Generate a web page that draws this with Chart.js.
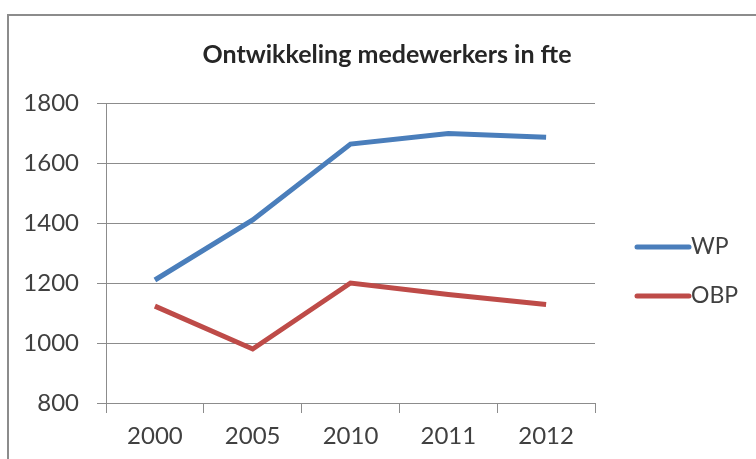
<!DOCTYPE html>
<html>
<head>
<meta charset="utf-8">
<script src="https://cdn.jsdelivr.net/npm/chart.js@4/dist/chart.umd.min.js"></script>
<style>
  html, body { margin: 0; padding: 0; background: #fff; }
  #wrap { width: 756px; height: 459px; }
</style>
</head>
<body>
<div id="wrap"><canvas id="fteChart" width="756" height="459"></canvas></div>
<script>
// data
const years = ['2000', '2005', '2010', '2011', '2012'];
const wpValues = [1210, 1410, 1663, 1698, 1686];
const obpValues = [1123, 980, 1200, 1162, 1128];
const yTicks = [800, 1000, 1200, 1400, 1600, 1800];

const FONT = 'Lato, "Open Sans", sans-serif';
const textColor = '#404040';

// outer frame + title + legend drawn by hand, Excel style
const decor = {
    id: 'decor',
    beforeDraw(chart) {
        const c = chart.ctx;
        c.save();
        c.fillStyle = '#fff';
        c.fillRect(0, 0, chart.width, chart.height);
        c.strokeStyle = '#8c8c8c';
        c.lineWidth = 2;
        c.strokeRect(8, 15, 800, 500);
        c.restore();
    },
    afterDraw(chart) {
        const c = chart.ctx;
        c.save();
        c.fillStyle = '#262626';
        c.font = 'bold 25px ' + FONT;
        c.textAlign = 'center';
        c.textBaseline = 'middle';
        c.fillText('Ontwikkeling medewerkers in fte', 387, 55);

        // legend
        const rows = [247, 296];
        chart.data.datasets.forEach((ds, i) => {
            const y = rows[i];
            c.strokeStyle = ds.borderColor;
            c.lineWidth = 5;
            c.lineCap = 'round';
            c.beginPath();
            c.moveTo(637, y);
            c.lineTo(689, y);
            c.stroke();
            c.fillStyle = textColor;
            c.font = '23px ' + FONT;
            c.textAlign = 'left';
            c.fillText(ds.label, 691, y);
        });
        c.restore();
    }
};

new Chart(document.getElementById('fteChart'), {
    type: 'line',
    data: {
        labels: years,
        datasets: [
            { label: 'WP', data: wpValues, borderColor: '#4a7ebb', borderWidth: 5 },
            { label: 'OBP', data: obpValues, borderColor: '#be4b48', borderWidth: 5 }
        ]
    },
    options: {
        responsive: false,
        animation: false,
        devicePixelRatio: 1,
        layout: { padding: { top: 103, right: 161, left: 0, bottom: 0 } },
        elements: {
            point: { radius: 0 },
            line: { tension: 0, borderCapStyle: 'butt', borderJoinStyle: 'miter' }
        },
        plugins: {
            legend: { display: false },
            title: { display: false },
            tooltip: { enabled: false }
        },
        scales: {
            x: {
                offset: true,
                grid: { drawOnChartArea: false, offset: true, tickLength: 10, color: '#8c8c8c' },
                border: { color: '#8c8c8c' },
                ticks: { padding: 9, color: textColor, font: { family: FONT, size: 24 } },
                afterFit: s => { s.height = 56; }
            },
            y: {
                min: 800,
                max: 1800,
                afterBuildTicks: s => { s.ticks = yTicks.map(v => ({ value: v })); },
                grid: { tickLength: 9, color: '#8c8c8c' },
                border: { color: '#8c8c8c' },
                ticks: {
                    padding: 18,
                    color: textColor,
                    font: { family: FONT, size: 24 },
                    callback: v => String(v)
                },
                afterFit: s => { s.width = 106; }
            }
        }
    },
    plugins: [decor]
});
</script>
</body>
</html>
